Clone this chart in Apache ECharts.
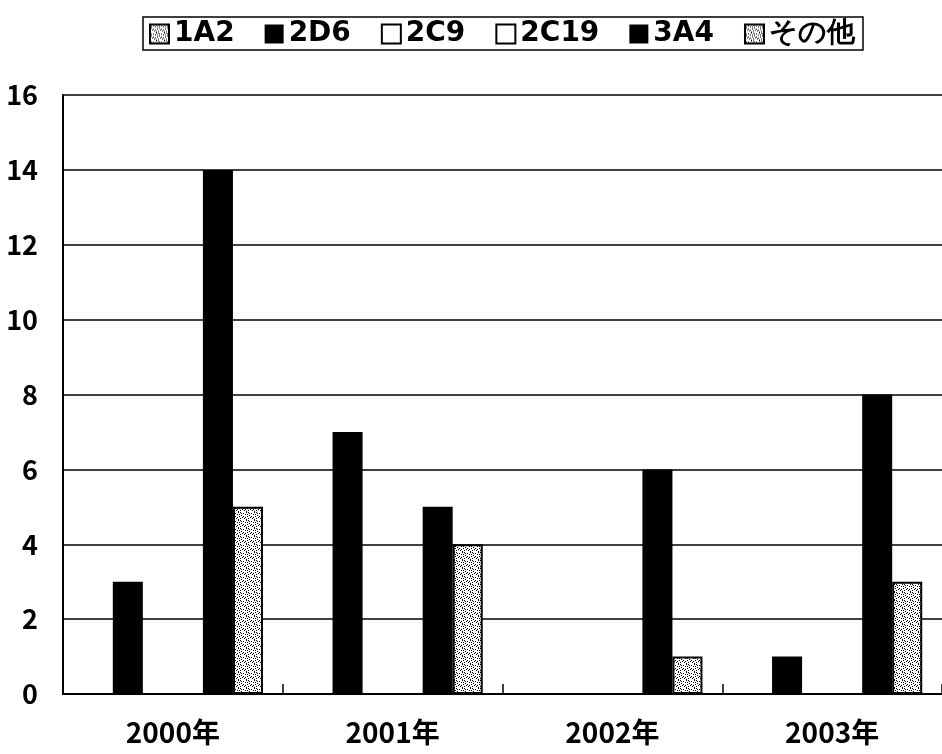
<!DOCTYPE html>
<html>
<head>
<meta charset="utf-8">
<script src="https://cdn.jsdelivr.net/npm/echarts@6/dist/echarts.min.js"></script>
<style>html,body{margin:0;padding:0;background:#fff}#c{width:942px;height:754px}</style>
</head>
<body>
<div id="c"></div>
<script>
const categories = ['2000年', '2001年', '2002年', '2003年'];
const seriesNames = ['1A2', '2D6', '2C9', '2C19', '3A4', 'その他'];
const s1A2 = [0, 0, 0, 0];
const s2D6 = [3, 7, 0, 1];
const s2C9 = [0, 0, 0, 0];
const s2C19 = [0, 0, 0, 0];
const s3A4 = [14, 5, 6, 8];
const sOther = [5, 4, 1, 3];
const yTicks = { min: 0, max: 16, interval: 2 };

function makePattern() {
  const c = document.createElement('canvas');
  c.width = 8; c.height = 8;
  const g = c.getContext('2d');
  g.fillStyle = '#fff'; g.fillRect(0, 0, 8, 8);
  g.fillStyle = '#000';
  const pts = [[0,0],[3,1],[6,0],[1,3],[5,2],[7,4],[2,5],[4,6],[0,6],[6,7],[3,4],[5,5],[1,1],[7,2]];
  pts.forEach(p => g.fillRect(p[0], p[1], 1, 1));
  return { image: c, repeat: 'repeat' };
}
const pat = makePattern();

const styles = {
  '1A2': { color: pat, borderColor: '#000', borderWidth: 1.5 },
  '2D6': { color: '#000', borderColor: '#000', borderWidth: 0 },
  '2C9': { color: '#fff', borderColor: '#000', borderWidth: 1.5 },
  '2C19': { color: '#fff', borderColor: '#000', borderWidth: 1.5 },
  '3A4': { color: '#000', borderColor: '#000', borderWidth: 0 },
  'その他': { color: pat, borderColor: '#000', borderWidth: 2 }
};
const dataArr = [s1A2, s2D6, s2C9, s2C19, s3A4, sOther];

const chart = echarts.init(document.getElementById('c'), null, { renderer: 'canvas' });
chart.setOption({
  animation: false,
  backgroundColor: '#fff',
  legend: {
    left: 143, top: 17,
    icon: 'rect',
    itemWidth: 19, itemHeight: 19, itemGap: 30,
    padding: [3, 8, 2, 6],
    borderColor: '#000', borderWidth: 1.5,
    textStyle: { fontFamily: 'DejaVu Sans', fontWeight: 'bold', fontSize: 28, color: '#000' },
    data: seriesNames
  },
  grid: { left: 63, top: 95, width: 888, bottom: 60 },
  xAxis: {
    type: 'category',
    data: categories,
    axisLine: { lineStyle: { color: '#000', width: 2 } },
    axisTick: { show: true, inside: true, length: 10, lineStyle: { color: '#000', width: 1.5 } },
    axisLabel: { color: '#000', fontFamily: 'Noto Sans CJK JP', fontWeight: 'bold', fontSize: 28, margin: 24 }
  },
  yAxis: {
    type: 'value',
    min: yTicks.min, max: yTicks.max, interval: yTicks.interval,
    axisLine: { show: true, lineStyle: { color: '#000', width: 2 } },
    axisTick: { show: false },
    splitLine: { lineStyle: { color: '#000', width: 1.5 } },
    axisLabel: { color: '#000', fontFamily: 'Noto Sans CJK JP', fontWeight: 'bold', fontSize: 27, margin: 25 }
  },
  series: seriesNames.map((n, i) => ({
    name: n,
    type: 'bar',
    data: dataArr[i],
    barGap: '0%',
    barCategoryGap: '18%',
    itemStyle: styles[n]
  }))
});
</script>
</body>
</html>
